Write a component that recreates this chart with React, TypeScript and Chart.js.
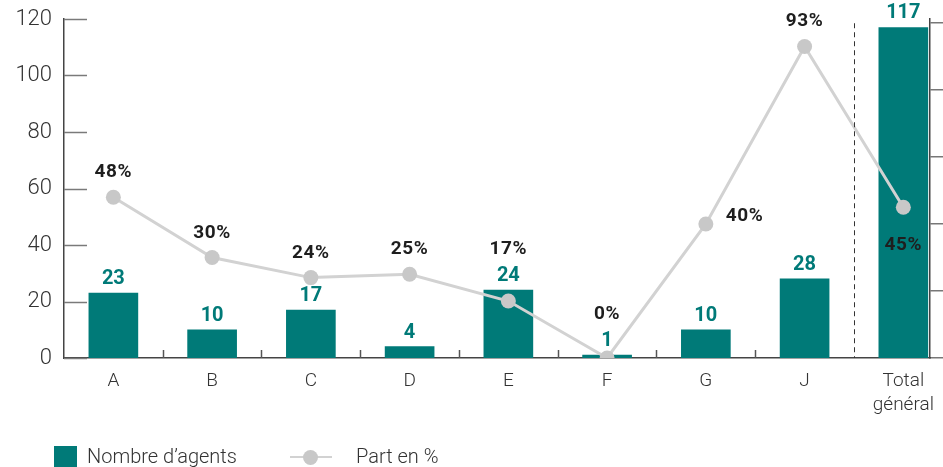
import React, { useEffect, useRef } from 'react';
import { Chart, registerables } from 'chart.js';

Chart.register(...registerables);

const categories = ['A', 'B', 'C', 'D', 'E', 'F', 'G', 'J', 'Total général'];
const agents = [23, 10, 17, 4, 24, 1, 10, 28, 117];
const partPct = [48, 30, 24, 25, 17, 0, 40, 93, 45];
const leftTicks = [0, 20, 40, 60, 80, 100, 120];
const rightTicks = [0, 20, 40, 60, 80, 100];
const pctLabelPlacement = ['above', 'above', 'above', 'above', 'aboveBar', 'aboveBar', 'right', 'above', 'below'];
const legendLabels = ['Nombre d’agents', 'Part en %'];

const TEAL = '#007a78';
const LINE_GREY = '#d2d2d2';
const POINT_GREY = '#c8c8c8';
const TEXT = '#333333';
const AXIS = '#444444';
const FONT = 'Roboto, "DejaVu Sans", sans-serif';

const decorPlugin = {
  id: 'decor',
  afterDatasetsDraw(chart: any) {
    const ctx = chart.ctx;
    const area = chart.chartArea;
    const xs = chart.scales.x;
    const yl = chart.scales.y;
    ctx.save();
    // inward ticks on the left axis
    ctx.strokeStyle = '#7a7a7a';
    ctx.lineWidth = 1.5;
    leftTicks.forEach((v) => {
      const y = Math.round(yl.getPixelForValue(v)) + 0.5;
      ctx.beginPath();
      ctx.moveTo(area.left, y);
      ctx.lineTo(area.left + 23, y);
      ctx.stroke();
    });
    // small ticks between categories
    ctx.strokeStyle = '#555';
    ctx.lineWidth = 1.5;
    for (let i = 0; i < categories.length - 2; i++) {
      const x = Math.round(xs.getPixelForValue(i + 0.5)) + 0.5;
      ctx.beginPath();
      ctx.moveTo(x, area.bottom);
      ctx.lineTo(x, area.bottom - 8);
      ctx.stroke();
    }
    // dashed separator before total
    const xd = Math.round(xs.getPixelForValue(categories.length - 1.5)) + 0.5;
    ctx.strokeStyle = '#333';
    ctx.lineWidth = 1;
    ctx.setLineDash([5, 4]);
    ctx.beginPath();
    ctx.moveTo(xd, yl.getPixelForValue(118.5));
    ctx.lineTo(xd, area.bottom);
    ctx.stroke();
    ctx.setLineDash([]);

    // bar value labels
    const barMeta = chart.getDatasetMeta(1);
    ctx.font = `bold 20px ${FONT}`;
    ctx.fillStyle = TEAL;
    ctx.textAlign = 'center';
    ctx.textBaseline = 'alphabetic';
    barMeta.data.forEach((el: any, i: number) => {
      ctx.fillText(String(agents[i]), el.x, el.y - 9);
    });

    // percentage labels
    const lineMeta = chart.getDatasetMeta(0);
    ctx.font = `bold 19px ${FONT}`;
    (ctx as any).letterSpacing = '0.6px';
    ctx.fillStyle = '#1e1e1e';
    lineMeta.data.forEach((el: any, i: number) => {
      const txt = partPct[i] + '%';
      const placement = pctLabelPlacement[i];
      const barTop = barMeta.data[i].y;
      if (placement === 'above') {
        ctx.textAlign = 'center';
        ctx.fillText(txt, el.x, el.y - 20);
      } else if (placement === 'aboveBar') {
        ctx.textAlign = 'center';
        ctx.fillText(txt, el.x, barTop - 36);
      } else if (placement === 'right') {
        ctx.textAlign = 'left';
        ctx.fillText(txt, el.x + 20, el.y - 3);
      } else {
        ctx.textAlign = 'center';
        ctx.fillText(txt, el.x, el.y + 43);
      }
    });
    (ctx as any).letterSpacing = '0px';
    ctx.restore();
  },
};

export default function App() {
  const canvasRef = useRef<HTMLCanvasElement | null>(null);

  useEffect(() => {
    if (!canvasRef.current) return;
    const chart = new Chart(canvasRef.current, {
      type: 'bar',
      data: {
        datasets: [
          {
            type: 'line',
            label: legendLabels[1],
            data: partPct.map((v, i) => ({ x: i, y: v })),
            yAxisID: 'y2',
            borderColor: LINE_GREY,
            borderWidth: 3,
            pointRadius: 7.5,
            pointBackgroundColor: POINT_GREY,
            pointBorderColor: POINT_GREY,
            pointBorderWidth: 0,
            tension: 0,
            order: 0,
          } as any,
          {
            type: 'bar',
            label: legendLabels[0],
            data: agents.map((v, i) => ({ x: i, y: v })),
            yAxisID: 'y',
            backgroundColor: TEAL,
            barThickness: 49,
            order: 1,
          } as any,
        ],
      },
      options: {
        responsive: false,
        maintainAspectRatio: false,
        animation: false,
        layout: { padding: { top: 19, left: 0, right: 0, bottom: 0 } },
        plugins: { legend: { display: false }, tooltip: { enabled: false } },
        scales: {
          x: {
            type: 'linear',
            offset: false,
            min: -0.5,
            max: 8.27,
            grid: { display: false, drawTicks: false, offset: false },
            border: { display: true, color: AXIS, width: 1.5 },
            ticks: {
              padding: 11,
              color: TEXT,
              font: { family: FONT, size: 19, weight: '300', lineHeight: 1.27 },
              callback: (v: any) => {
                const lab = categories[Math.round(Number(v))];
                if (lab === undefined) return '';
                return lab.includes(' ') ? lab.split(' ') : lab;
              },
            },
            afterBuildTicks: (s: any) => {
              s.ticks = categories.map((_, i) => ({ value: i }));
            },
            afterFit: (s: any) => {
              s.height = 109;
              s.paddingLeft = 0;
              s.paddingRight = 0;
            },
          } as any,
          y: {
            position: 'left',
            min: 0,
            max: 120,
            grid: { display: false, drawTicks: false },
            border: { display: true, color: AXIS, width: 1.5 },
            ticks: {
              padding: 12,
              color: TEXT,
              font: { family: FONT, size: 22, weight: '300' },
            },
            afterBuildTicks: (s: any) => {
              s.ticks = leftTicks.map((v) => ({ value: v }));
            },
            afterFit: (s: any) => {
              s.width = 64;
              s.paddingTop = 0;
              s.paddingBottom = 0;
            },
          } as any,
          y2: {
            position: 'right',
            min: 0,
            max: 101.2,
            grid: { drawOnChartArea: false, drawTicks: true, tickLength: 13, color: '#777', lineWidth: 1.5 },
            border: { display: true, color: AXIS, width: 1.5 },
            ticks: { display: false },
            afterBuildTicks: (s: any) => {
              s.ticks = rightTicks.map((v) => ({ value: v }));
            },
            afterFit: (s: any) => {
              s.width = 13;
              s.paddingTop = 0;
              s.paddingBottom = 0;
            },
          } as any,
        },
      },
      plugins: [decorPlugin],
    });
    return () => chart.destroy();
  }, []);

  const textStyle: React.CSSProperties = {
    position: 'absolute',
    font: `300 20px ${FONT}`,
    color: TEXT,
    lineHeight: '22px',
    whiteSpace: 'nowrap',
  };

  return (
    <div style={{ position: 'fixed', left: 0, top: 0, width: 943, height: 467, background: '#fff', overflow: 'hidden' }}>
      <canvas ref={canvasRef} width={943} height={467} style={{ position: 'absolute', left: 0, top: 0 }} />
      <div style={{ position: 'absolute', left: 54, top: 446, width: 23, height: 21, background: TEAL }} />
      <span style={{ ...textStyle, left: 87, top: 445 }}>{legendLabels[0]}</span>
      <div style={{ position: 'absolute', left: 290, top: 456, width: 42, height: 2, background: LINE_GREY }} />
      <div style={{ position: 'absolute', left: 303, top: 450, width: 15, height: 15, borderRadius: '50%', background: POINT_GREY }} />
      <span style={{ ...textStyle, left: 356, top: 445 }}>{legendLabels[1]}</span>
    </div>
  );
}
